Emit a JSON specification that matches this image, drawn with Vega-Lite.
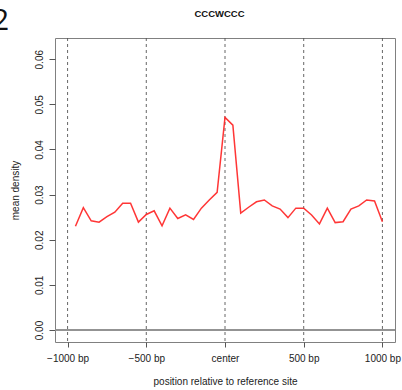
{
  "$schema": "https://vega.github.io/schema/vega-lite/v6.json",
  "autosize": "none",
  "width": 340,
  "height": 304,
  "padding": {"left": 55, "top": 38, "right": 7, "bottom": 48},
  "background": "white",
  "config": {
    "view": {"stroke": "#808080", "strokeWidth": 1},
    "font": "Liberation Sans"
  },
  "title": {
    "text": "2",
    "anchor": "start",
    "frame": "group",
    "font": "Open Sans",
    "fontSize": 30,
    "fontWeight": "normal",
    "color": "#111",
    "baseline": "alphabetic",
    "dx": -63,
    "dy": 57,
    "offset": 6
  },
  "datasets": {
    "guides": [{"pos": -1000}, {"pos": -500}, {"pos": 0}, {"pos": 500}, {"pos": 1000}],
    "density": [
      {"position": -950, "density": 0.0230},
      {"position": -900, "density": 0.0271},
      {"position": -850, "density": 0.0242},
      {"position": -800, "density": 0.0239},
      {"position": -750, "density": 0.0251},
      {"position": -700, "density": 0.0261},
      {"position": -650, "density": 0.0281},
      {"position": -600, "density": 0.0281},
      {"position": -550, "density": 0.0239},
      {"position": -500, "density": 0.0256},
      {"position": -450, "density": 0.0264},
      {"position": -400, "density": 0.0231},
      {"position": -350, "density": 0.0270},
      {"position": -300, "density": 0.0247},
      {"position": -250, "density": 0.0255},
      {"position": -200, "density": 0.0245},
      {"position": -150, "density": 0.0270},
      {"position": -100, "density": 0.0288},
      {"position": -50, "density": 0.0305},
      {"position": 0, "density": 0.0471},
      {"position": 50, "density": 0.0454},
      {"position": 100, "density": 0.0259},
      {"position": 150, "density": 0.0272},
      {"position": 200, "density": 0.0284},
      {"position": 250, "density": 0.0288},
      {"position": 300, "density": 0.0275},
      {"position": 350, "density": 0.0268},
      {"position": 400, "density": 0.0249},
      {"position": 450, "density": 0.0270},
      {"position": 500, "density": 0.0270},
      {"position": 550, "density": 0.0255},
      {"position": 600, "density": 0.0235},
      {"position": 650, "density": 0.0270},
      {"position": 700, "density": 0.0238},
      {"position": 750, "density": 0.0240},
      {"position": 800, "density": 0.0268},
      {"position": 850, "density": 0.0275},
      {"position": 900, "density": 0.0288},
      {"position": 950, "density": 0.0286},
      {"position": 1000, "density": 0.0240}
    ]
  },
  "resolve": {"axis": {"x": "independent"}},
  "layer": [
    {
      "data": {"name": "guides"},
      "mark": {"type": "rule", "strokeDash": [3, 3], "color": "#555555", "strokeWidth": 0.9},
      "encoding": {
        "x": {
          "field": "pos",
          "type": "quantitative",
          "scale": {"domain": [-1080, 1080], "nice": false, "zero": false},
          "axis": {
            "orient": "top",
            "title": "CCCWCCC",
            "labels": false,
            "ticks": false,
            "domain": false,
            "grid": false,
            "titleFont": "Liberation Sans",
            "titleFontSize": 9.5,
            "titleFontWeight": "bold",
            "titleColor": "#111",
            "titleX": 164,
            "titleY": -21.5,
            "titleAlign": "center",
            "titleBaseline": "alphabetic"
          }
        }
      }
    },
    {
      "data": {"name": "guides"},
      "mark": {"type": "rule", "color": "#909090", "strokeWidth": 1},
      "encoding": {
        "y": {"datum": 0, "type": "quantitative"}
      }
    },
    {
      "data": {"name": "density"},
      "mark": {"type": "line", "color": "#ff2020", "strokeWidth": 1.5, "opacity": 0.9},
      "encoding": {
        "x": {
          "field": "position",
          "type": "quantitative",
          "scale": {"domain": [-1080, 1080], "nice": false, "zero": false},
          "axis": {
            "orient": "bottom",
            "title": "position relative to reference site",
            "values": [-1000, -500, 0, 500, 1000],
            "labelExpr": "datum.value == 0 ? 'center' : (datum.value < 0 ? '−' + (-datum.value) : '' + datum.value) + ' bp'",
            "domain": false,
            "grid": false,
            "ticks": true,
            "tickSize": 5,
            "tickColor": "#555555",
            "labelFont": "Liberation Sans",
            "labelFontSize": 10,
            "labelColor": "#222",
            "labelBaseline": "alphabetic",
            "labelPadding": 14,
            "labelFlush": false,
            "titleFont": "Liberation Sans",
            "titleFontSize": 10,
            "titleFontWeight": "normal",
            "titleColor": "#222",
            "titleBaseline": "alphabetic",
            "titleY": 42
          }
        },
        "y": {
          "field": "density",
          "type": "quantitative",
          "scale": {"domain": [-0.00266, 0.0647], "nice": false, "zero": false},
          "axis": {
            "title": "mean density",
            "values": [0, 0.01, 0.02, 0.03, 0.04, 0.05, 0.06],
            "format": ".2f",
            "domain": false,
            "grid": false,
            "tickSize": 6,
            "tickColor": "#555555",
            "labelAngle": -90,
            "labelAlign": "center",
            "labelBaseline": "alphabetic",
            "labelPadding": 7,
            "labelFont": "Liberation Sans",
            "labelFontSize": 10,
            "labelColor": "#222",
            "labelFlush": false,
            "titleFont": "Liberation Sans",
            "titleFontSize": 10,
            "titleFontWeight": "normal",
            "titleColor": "#222",
            "titleX": -40,
            "titleBaseline": "middle"
          }
        }
      }
    }
  ]
}
